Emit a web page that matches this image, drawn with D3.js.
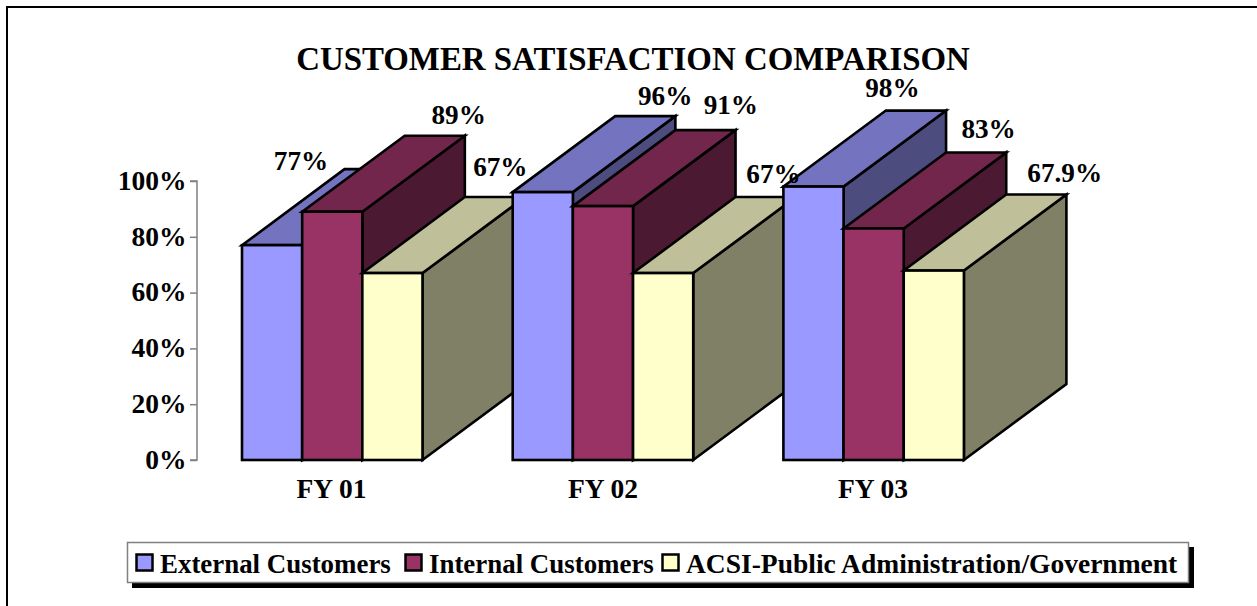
<!DOCTYPE html>
<html><head><meta charset="utf-8">
<script src="https://cdn.jsdelivr.net/npm/d3@7"></script>
<style>html,body{margin:0;padding:0;background:#fff}svg{display:block}text{font-family:"Liberation Serif","Times New Roman",serif;font-weight:bold;fill:#000}</style>
</head><body><svg id="c" width="1257" height="606"></svg>
<script>
const categories = ["FY 01","FY 02","FY 03"];
const seriesNames = ["External Customers","Internal Customers","ACSI-Public Administration/Government"];
const externalValues = [77,96,98];
const internalValues = [89,91,83];
const acsiValues = [67,67,67.9];
const valueLabels = [["77%","96%","98%"],["89%","91%","83%"],["67%","67%","67.9%"]];
const yTicks = [0,20,40,60,80,100];
const frontColors = ["#9999FF","#993366","#FFFFCC"];
const topColors = ["#7373BF","#73264C","#BFBF99"];
const sideColors = ["#4C4C7F","#4C1933","#808066"];
const seriesValues = [externalValues,internalValues,acsiValues];

const svg = d3.select("#c");
const y = d3.scaleLinear().domain([0,100]).range([460,181]);
const pitch = 270.7, groupWidth = 180.5;
const xs = c => 242 + categories.indexOf(c)*pitch;
const barW = groupWidth/3, dx = 102.5, dy = 76;

// frame (top and left only, running off the page)
svg.append("path").attr("d","M7,606V7H1257").attr("fill","none").attr("stroke","#000").attr("stroke-width",2);

svg.append("text").attr("x",633).attr("y",70).attr("text-anchor","middle").attr("font-size",32.9).text("CUSTOMER SATISFACTION COMPARISON");

// axis
const axis = d3.axisLeft(y).tickValues(yTicks).tickSize(7).tickFormat(d=>d+"%");
const ga = svg.append("g").attr("transform","translate(197,0)").call(axis);
ga.select(".domain").attr("stroke","#808080").attr("stroke-width",1.5).attr("d","M-7,181H0V460H-7");
ga.selectAll(".tick line").attr("stroke","#808080").attr("stroke-width",1.5);
ga.selectAll(".tick text").attr("font-size",27.5).attr("font-family",'"Liberation Serif"').attr("x",-10.5).attr("dy","0.3em").style("font-weight","bold");

// bars
const line = d3.line();
categories.forEach((c,i)=>{
  seriesValues.forEach((vals,s)=>{
    const x0 = xs(c)+s*barW, x1 = x0+barW, yt = y(vals[i]), yb = y(0);
    const g = svg.append("g").attr("stroke","#000").attr("stroke-width",2.6).attr("stroke-linejoin","miter");
    g.append("path").attr("fill",sideColors[s]).attr("d",line([[x1,yb],[x1+dx,yb-dy],[x1+dx,yt-dy],[x1,yt]])+"Z");
    g.append("path").attr("fill",topColors[s]).attr("d",line([[x0,yt],[x0+dx,yt-dy],[x1+dx,yt-dy],[x1,yt]])+"Z");
    g.append("rect").attr("fill",frontColors[s]).attr("x",x0).attr("y",yt).attr("width",barW).attr("height",yb-yt);
  });
});

// category labels
const catCentres = [331.5,603,873];
categories.forEach((c,i)=>{
  svg.append("text").attr("x",catCentres[i]).attr("y",498).attr("text-anchor","middle").attr("font-size",27.5).text(c);
});

// value labels (placement offsets from the bar's front-left top corner)
const labelOffsets = [[[59,-84],[152.5,-96],[109,-99]],[[156.5,-97],[158,-101],[145,-99]],[[138,-106],[140.5,-99],[161,-98]]];
seriesValues.forEach((vals,s)=>vals.forEach((v,i)=>{
  const x0 = xs(categories[i])+s*barW;
  svg.append("text").attr("x",x0+labelOffsets[s][i][0]).attr("y",y(v)+labelOffsets[s][i][1]+9).attr("text-anchor","middle").attr("font-size",27.2).text(valueLabels[s][i]);
}));

// legend
svg.append("rect").attr("x",132).attr("y",547).attr("width",1062).attr("height",41).attr("fill","#000");
svg.append("rect").attr("x",127.5).attr("y",542.5).attr("width",1061).attr("height",40).attr("fill","#fff").attr("stroke","#808080").attr("stroke-width",1.5);
const legendSwatchX = [136.5,405.5,662.5], legendTextX = [160,429,686], legendFontSizes = [26.9,26.9,27.5];
seriesNames.forEach((n,s)=>{
  svg.append("rect").attr("x",legendSwatchX[s]).attr("y",554.5).attr("width",16).attr("height",16).attr("fill",frontColors[s]).attr("stroke","#000").attr("stroke-width",2.5);
  svg.append("text").attr("x",legendTextX[s]).attr("y",572.5).attr("font-size",legendFontSizes[s]).text(n);
});
</script></body></html>
